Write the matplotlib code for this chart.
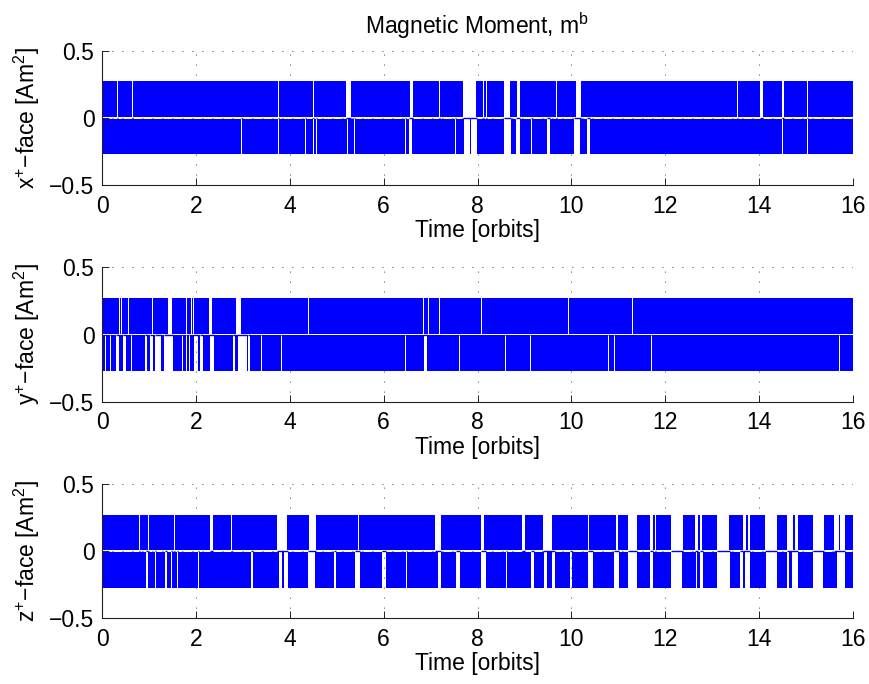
import matplotlib
matplotlib.use("Agg")
import matplotlib.pyplot as plt

plt.rcParams['font.family'] = ['Liberation Sans', 'DejaVu Sans']
plt.rcParams['mathtext.fontset'] = 'custom'
plt.rcParams['mathtext.rm'] = 'Liberation Sans'
plt.rcParams['mathtext.it'] = 'Liberation Sans:italic'
plt.rcParams['mathtext.bf'] = 'Liberation Sans:bold'

# ---------------- data ----------------
T_START, T_END = 0.0, 16.0          # time span [orbits]
AMPLITUDE = 0.272                    # saturation level of magnetic moment [Am^2]
DEAD_BAND = 0.006                    # small band around zero not reached by switching

X_TICKS = [0, 2, 4, 6, 8, 10, 12, 14, 16]
Y_TICKS = [-0.5, 0, 0.5]
Y_TICK_LABELS = ['\u22120.5', '0', '0.5']
FACE_LABELS = ['x', 'y', 'z']

# intervals (start, end) in orbits where the switching signal does NOT reach the band
X_UPPER_GAPS = [(0.325, 0.335), (0.645, 0.655), (3.085, 3.095), (3.215, 3.225), (3.755, 3.765),
                (4.505, 4.515), (5.19, 5.31), (6.445, 6.455), (6.57, 6.62), (7.085, 7.095),
                (7.135, 7.145), (7.185, 7.195), (7.235, 7.245), (7.69, 7.97), (8.125, 8.135),
                (8.185, 8.195), (8.57, 8.70), (8.84, 8.90), (9.385, 9.395), (9.605, 9.615),
                (9.675, 9.685), (10.09, 10.21), (11.505, 11.515), (13.265, 13.275),
                (13.335, 13.345), (13.535, 13.545), (14.02, 14.09), (14.245, 14.255),
                (14.48, 14.53), (15.025, 15.035)]
X_LOWER_GAPS = [(0.595, 0.605), (2.965, 2.975), (3.125, 3.135), (3.755, 3.765), (4.33, 4.35),
                (4.505, 4.515), (4.565, 4.575), (5.22, 5.25), (5.375, 5.385), (6.45, 6.48),
                (6.55, 6.61), (7.085, 7.095), (7.51, 7.55), (7.72, 7.85), (7.865, 7.99),
                (8.57, 8.71), (8.82, 8.90), (9.14, 9.16), (9.47, 9.55), (10.06, 10.19),
                (10.33, 10.39), (12.505, 12.515), (12.675, 12.685), (13.035, 13.045),
                (13.315, 13.325), (14.035, 14.045), (14.495, 14.505), (15.025, 15.035)]

Y_UPPER_GAPS = [(0.365, 0.375), (0.415, 0.425), (0.555, 0.565), (0.695, 0.705), (0.745, 0.755),
                (0.865, 0.875), (0.95, 0.965), (1.075, 1.085), (1.125, 1.135), (1.225, 1.235),
                (1.40, 1.49), (1.795, 1.805), (1.845, 1.855), (1.905, 1.915), (1.94, 1.97),
                (2.28, 2.34), (2.85, 2.96), (4.38, 4.40), (6.84, 6.87), (6.955, 6.965),
                (7.045, 7.055), (7.115, 7.125), (7.185, 7.195), (7.575, 7.585), (8.075, 8.085),
                (9.195, 9.205), (9.585, 9.595), (9.665, 9.675), (9.935, 9.945),
                (10.345, 10.355), (10.865, 10.875), (11.30, 11.32)]
Y_LOWER_GAPS = [(0.06, 0.09), (0.125, 0.135), (0.175, 0.185), (0.30, 0.37), (0.44, 0.52),
                (0.625, 0.635), (0.735, 0.745), (0.805, 0.815), (0.91, 0.95), (1.02, 1.09),
                (1.13, 1.25), (1.32, 1.52), (1.555, 1.565), (1.615, 1.625), (1.70, 1.73),
                (1.795, 1.805), (1.855, 1.865), (1.96, 2.05), (2.09, 2.16), (2.185, 2.195),
                (2.30, 2.38), (2.78, 2.83), (2.90, 3.08), (3.11, 3.15), (3.185, 3.195),
                (3.395, 3.405), (3.815, 3.825), (6.45, 6.48), (6.86, 6.92), (7.615, 7.625),
                (8.005, 8.015), (8.595, 8.605), (9.11, 9.13), (9.555, 9.565), (10.79, 10.81),
                (10.91, 10.93), (11.705, 11.715), (13.71, 13.73), (15.705, 15.715)]

Z_UPPER_GAPS = [(0.44, 0.45), (0.79, 0.80), (0.99, 1.01), (1.19, 1.20), (1.53, 1.55),
                (2.30, 2.37), (2.755, 2.765), (2.995, 3.005), (3.72, 3.95), (4.41, 4.55),
                (4.875, 4.885), (5.455, 5.47), (6.595, 6.605), (7.09, 7.23), (7.575, 7.585),
                (8.07, 8.14), (8.94, 9.01), (9.39, 9.58), (10.355, 10.365), (10.96, 11.00),
                (11.20, 11.39), (11.67, 11.73), (11.78, 11.80), (12.12, 12.37), (12.63, 12.70),
                (12.75, 12.79), (13.11, 13.35), (13.66, 13.72), (13.77, 13.80), (14.12, 14.38),
                (14.60, 14.73), (14.76, 14.83), (15.14, 15.38), (15.59, 15.70), (15.73, 15.83)]
Z_LOWER_GAPS = [(0.735, 0.745), (0.94, 0.97), (1.13, 1.16), (1.35, 1.38), (1.46, 1.49),
                (1.595, 1.61), (1.725, 1.735), (2.04, 2.07), (3.10, 3.12), (3.17, 3.22),
                (3.76, 3.84), (3.88, 3.96), (4.315, 4.325), (4.38, 4.54), (4.95, 4.98),
                (5.40, 5.50), (5.96, 6.04), (6.47, 6.50), (7.15, 7.23), (7.55, 7.63),
                (8.07, 8.19), (8.60, 8.63), (9.13, 9.20), (9.41, 9.49), (9.58, 9.66),
                (9.97, 10.01), (10.36, 10.46), (10.91, 11.01), (11.20, 11.39), (11.67, 11.73),
                (12.12, 12.35), (12.65, 12.68), (12.74, 12.81), (13.11, 13.38), (13.59, 13.65),
                (13.70, 13.80), (14.14, 14.38), (14.60, 14.64), (14.69, 14.83), (15.14, 15.35),
                (15.65, 15.83)]

UPPER_GAPS = [X_UPPER_GAPS, Y_UPPER_GAPS, Z_UPPER_GAPS]
LOWER_GAPS = [X_LOWER_GAPS, Y_LOWER_GAPS, Z_LOWER_GAPS]


def filled_segments(gaps):
    """(start, width) pieces of [T_START, T_END] not covered by gaps."""
    segs, cur = [], T_START
    for a, b in sorted(gaps):
        if a > cur:
            segs.append((cur, a - cur))
        cur = max(cur, b)
    if cur < T_END:
        segs.append((cur, T_END - cur))
    return segs


def merged(gaps):
    out = []
    for a, b in sorted(gaps):
        if out and a <= out[-1][1]:
            out[-1] = (out[-1][0], max(out[-1][1], b))
        else:
            out.append((a, b))
    return out


# ---------------- figure ----------------
fig = plt.figure(figsize=(8.69, 6.84), dpi=100)
LEFT, WIDTH, HEIGHT = 0.1174, 0.8642, 0.1965
BOTTOMS = [0.7295, 0.4127, 0.0961]
FS = 16.5
BLUE = (0, 0, 1)

for i in range(3):
    ax = fig.add_axes([LEFT, BOTTOMS[i], WIDTH, HEIGHT])
    up = filled_segments(UPPER_GAPS[i])
    lo = filled_segments(LOWER_GAPS[i])
    ax.broken_barh(up, (DEAD_BAND, AMPLITUDE - DEAD_BAND), facecolors=BLUE,
                   edgecolor='none', linewidth=0)
    ax.broken_barh(lo, (-AMPLITUDE, AMPLITUDE - DEAD_BAND), facecolors=BLUE,
                   edgecolor='none', linewidth=0)
    for a, b in merged(UPPER_GAPS[i] + LOWER_GAPS[i]):
        ax.hlines(0, a, b, colors=[BLUE], linewidth=1.0)

    ax.set_xlim(T_START, T_END)
    ax.set_ylim(Y_TICKS[0], Y_TICKS[-1])
    ax.set_xticks(X_TICKS)
    ax.set_xticklabels([str(t) for t in X_TICKS])
    ax.set_yticks(Y_TICKS)
    ax.set_yticklabels(Y_TICK_LABELS)
    ax.grid(True, linestyle=(0, (1, 11)), color='k', linewidth=0.6)
    ax.set_axisbelow(True)
    for s in ('top', 'right'):
        ax.spines[s].set_visible(False)
    for s in ('left', 'bottom'):
        ax.spines[s].set_linewidth(0.8)
        ax.spines[s].set_color('#222222')
    ax.tick_params(direction='in', length=5, width=0.6, labelsize=FS,
                   top=False, right=False)
    ax.tick_params(axis='x', pad=7)
    ax.tick_params(axis='y', pad=5.5)
    ax.set_xlabel('Time [orbits]', fontsize=FS, labelpad=1)
    ax.set_ylabel(FACE_LABELS[i] + r'$\mathregular{^{+}}$' + '\u2212face [Am' +
                  r'$\mathregular{^{2}}$' + ']', fontsize=FS, labelpad=5)
    if i == 0:
        ax.set_title(r'Magnetic Moment, m$\mathregular{^{b}}$', fontsize=FS, pad=12)

fig.savefig('out.png', dpi=100)
